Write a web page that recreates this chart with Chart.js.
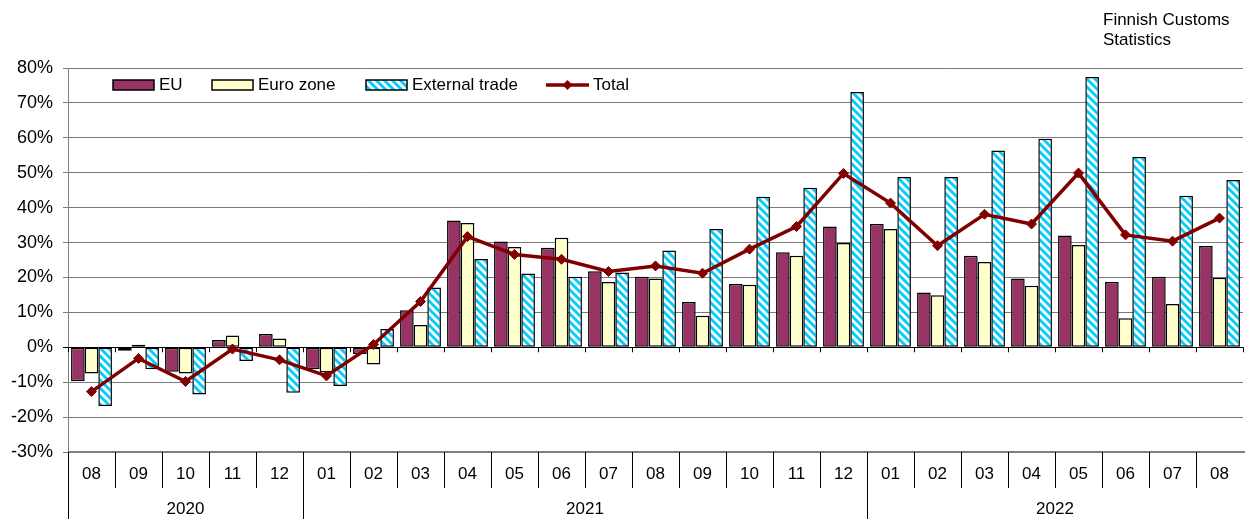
<!DOCTYPE html>
<html>
<head>
<meta charset="utf-8">
<script src="https://cdn.jsdelivr.net/npm/chart.js@4.4.1/dist/chart.umd.min.js"></script>
<style>
html,body{margin:0;padding:0;background:#fff;}
#wrap{width:1245px;height:519px;position:relative;}
</style>
</head>
<body>
<div id="wrap"><canvas id="c" width="1245" height="519"></canvas></div>
<script>
const months = ["08","09","10","11","12","01","02","03","04","05","06","07","08","09","10","11","12","01","02","03","04","05","06","07","08"];
const years = [{label:"2020", start:0, end:4},{label:"2021", start:5, end:16},{label:"2022", start:17, end:24}];
const euValues = [-9.7,-1.0,-7.0,2.1,3.8,-6.2,-1.9,10.6,36.3,30.3,28.5,21.8,20.2,13.0,18.1,27.2,34.6,35.3,15.7,26.2,19.7,32.0,18.7,20.2,29.0];
const euroZoneValues = [-7.5,0.7,-7.5,3.4,2.5,-7.2,-4.9,6.4,35.6,28.7,31.4,18.7,19.7,9.0,17.9,26.2,29.9,33.9,14.9,24.4,17.6,29.3,8.3,12.4,19.9];
const externalValues = [-16.8,-6.3,-13.5,-3.9,-13.0,-11.1,5.2,17.1,25.3,21.1,20.2,21.4,27.7,33.9,43.1,45.7,73.1,48.8,48.8,56.4,59.7,77.4,54.5,43.4,47.9];
const totalValues = [-12.7,-3.2,-9.8,-0.5,-3.6,-8.2,0.8,13.1,31.7,26.6,25.2,21.7,23.3,21.2,28.1,34.6,49.8,41.3,29.1,38.1,35.3,49.9,32.2,30.4,37.0];
const yTicks = {min:-30, max:80, step:10};
const sourceText = ["Finnish Customs","Statistics"];

const FONT = '"Liberation Sans", Arial, sans-serif';
Chart.defaults.font.family = FONT;
Chart.defaults.color = '#000';

function makeStripe(){
  const c = document.createElement('canvas');
  c.width = 8; c.height = 8;
  const g = c.getContext('2d');
  g.fillStyle = '#fff'; g.fillRect(0,0,8,8);
  g.strokeStyle = '#00CCFF'; g.lineWidth = 2.8;
  for (const k of [-8,0,8]) { g.beginPath(); g.moveTo(-1, k-1); g.lineTo(9, k+9); g.stroke(); }
  return g.createPattern(c, 'repeat');
}
const stripe = makeStripe();

const customPlugin = {
  id: 'custom',
  afterDraw(chart){
    const ctx = chart.ctx;
    const x = chart.scales.x, y = chart.scales.y;
    const w = x.getPixelForValue(1) - x.getPixelForValue(0);
    const bottom = chart.chartArea.bottom;
    const y0 = y.getPixelForValue(0);
    ctx.save();
    // bottom axis line
    ctx.strokeStyle = '#808080'; ctx.lineWidth = 2;
    ctx.beginPath(); ctx.moveTo(chart.chartArea.left, Math.round(bottom)); ctx.lineTo(1245, Math.round(bottom)); ctx.stroke();
    // tick marks at 0 line
    ctx.strokeStyle = '#000'; ctx.lineWidth = 1;
    for (let i = 0; i <= months.length; i++) {
      const bx = Math.round(x.getPixelForValue(i) - w/2) + 0.5;
      ctx.beginPath(); ctx.moveTo(bx, y0); ctx.lineTo(bx, y0 + 5); ctx.stroke();
    }
    // category separators
    const yearStarts = years.map(v => v.start);
    for (let i = 0; i < months.length; i++) {
      const bx = Math.round(x.getPixelForValue(i) - w/2) + 0.5;
      const full = yearStarts.includes(i);
      ctx.strokeStyle = '#000';
      ctx.beginPath(); ctx.moveTo(bx, bottom); ctx.lineTo(bx, full ? 519 : bottom + 36); ctx.stroke();
    }
    // month labels
    ctx.fillStyle = '#000';
    ctx.font = '17px ' + FONT;
    ctx.textAlign = 'center'; ctx.textBaseline = 'middle';
    months.forEach((m, i) => ctx.fillText(m, x.getPixelForValue(i), bottom + 22));
    years.forEach(yr => {
      const cx = (x.getPixelForValue(yr.start) + x.getPixelForValue(yr.end)) / 2;
      ctx.fillText(yr.label, cx, bottom + 57);
    });
    // legend
    const ds = chart.data.datasets;
    ctx.font = '17px ' + FONT;
    ctx.textAlign = 'left';
    const items = [{x:113},{x:212},{x:366},{x:546}];
    const ly = 85;
    items.forEach((it, i) => {
      const d = ds[i];
      if (d.type === 'line') {
        ctx.strokeStyle = d.borderColor; ctx.lineWidth = 3.5;
        ctx.beginPath(); ctx.moveTo(it.x, ly); ctx.lineTo(it.x + 43, ly); ctx.stroke();
        ctx.fillStyle = d.borderColor;
        const cx = it.x + 21.5;
        ctx.beginPath(); ctx.moveTo(cx, ly-5); ctx.lineTo(cx+5, ly); ctx.lineTo(cx, ly+5); ctx.lineTo(cx-5, ly); ctx.closePath(); ctx.fill();
        ctx.fillStyle = '#000';
        ctx.fillText(d.label, it.x + 47, ly);
      } else {
        ctx.fillStyle = d.backgroundColor;
        ctx.fillRect(it.x, ly - 5, 41, 10);
        ctx.strokeStyle = '#000'; ctx.lineWidth = 1.5;
        ctx.strokeRect(it.x, ly - 5, 41, 10);
        ctx.fillStyle = '#000';
        ctx.fillText(d.label, it.x + 46, ly);
      }
    });
    // source text
    ctx.font = '17px ' + FONT;
    ctx.textBaseline = 'alphabetic';
    ctx.fillText(sourceText[0], 1103, 25);
    ctx.fillText(sourceText[1], 1103, 45);
    ctx.restore();
  }
};

const barCommon = {borderColor:'#000', borderWidth:1.5, borderSkipped:false, categoryPercentage:0.87, barPercentage:1.0, order:1};

new Chart(document.getElementById('c'), {
  data: {
    labels: months,
    datasets: [
      Object.assign({type:'bar', label:'EU', data:euValues, backgroundColor:'#993366'}, barCommon),
      Object.assign({type:'bar', label:'Euro zone', data:euroZoneValues, backgroundColor:'#FFFFCC'}, barCommon),
      Object.assign({type:'bar', label:'External trade', data:externalValues, backgroundColor:stripe}, barCommon),
      {type:'line', label:'Total', data:totalValues, borderColor:'#800000', backgroundColor:'#800000', borderWidth:3.5,
       pointStyle:'rectRot', pointRadius:5, pointBackgroundColor:'#800000', pointBorderColor:'#800000', pointBorderWidth:1, tension:0, order:0}
    ]
  },
  options: {
    responsive:false, animation:false,
    layout:{autoPadding:false, padding:{top:68, right:2, left:0, bottom:0}},
    plugins:{legend:{display:false}, tooltip:{enabled:false}},
    scales:{
      x:{type:'category', offset:true, grid:{display:false}, border:{display:false}, ticks:{display:false},
         afterFit(s){ s.height = 67; }},
      y:{min:yTicks.min, max:yTicks.max,
         ticks:{stepSize:yTicks.step, callback:v => v + '%', font:{size:18, family:FONT}, color:'#000', padding:10},
         grid:{color:ctx => ctx.tick && ctx.tick.value === 0 ? '#000' : '#7a7a7a', lineWidth:1, tickLength:5, drawTicks:true},
         border:{color:'#808080', width:1},
         afterFit(s){ s.width = 68; }}
    }
  },
  plugins:[customPlugin]
});
</script>
</body>
</html>
